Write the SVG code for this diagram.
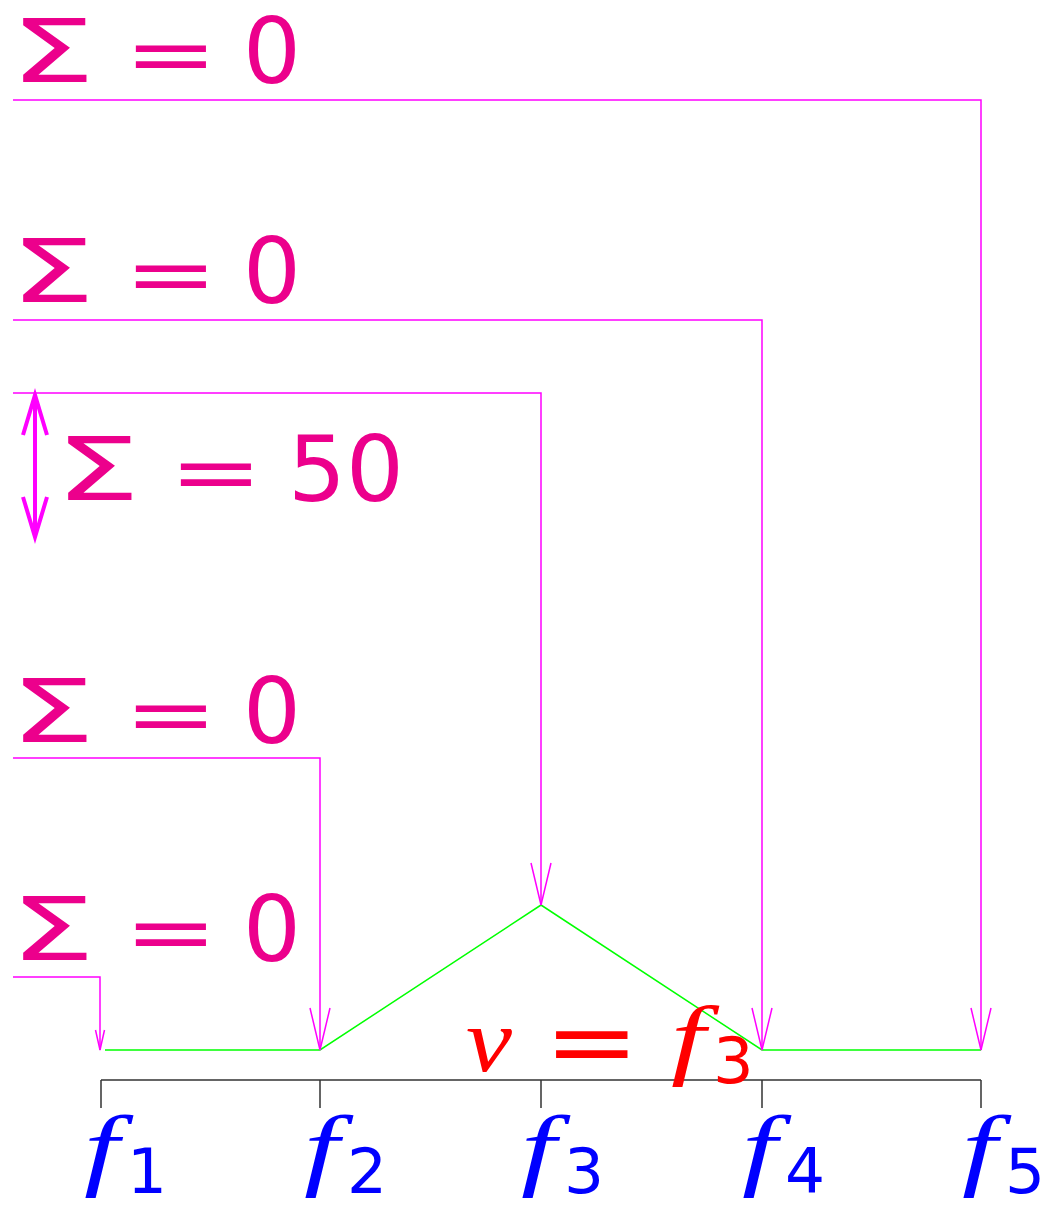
<svg xmlns="http://www.w3.org/2000/svg" width="1062" height="1215" viewBox="0 0 1062 1215">
<defs>
<style>
.conn{fill:none;stroke:#ff00ff;stroke-width:1.5}
.ls{font-family:"DejaVu Sans",sans-serif;font-size:88px;fill:#ec008c}
.le{font-family:"DejaVu Sans",sans-serif;font-size:80px;fill:#ec008c}
.lz{font-family:"DejaVu Sans",sans-serif;font-size:91px;fill:#ec008c}
.ax{fill:none;stroke:#333;stroke-width:1.5}
.f{font-family:"Liberation Serif",serif;font-style:italic;font-size:90px;fill:#0000ff}
.sub{font-family:"DejaVu Sans",sans-serif;font-size:63px;fill:#0000ff}
.r{fill:#ff0000}
</style>
<marker id="ah" markerUnits="userSpaceOnUse" markerWidth="60" markerHeight="40" viewBox="-50 -20 60 40" refX="0" refY="0" orient="auto">
<path d="M-42,-10 L0,0 L-42,10" fill="none" stroke="#ff00ff" stroke-width="1.5"/>
</marker>
<marker id="ah2" markerUnits="userSpaceOnUse" markerWidth="30" markerHeight="20" viewBox="-25 -10 30 20" refX="0" refY="0" orient="auto">
<path d="M-20,-4.5 L0,0 L-20,4.5" fill="none" stroke="#ff00ff" stroke-width="1.5"/>
</marker>
<marker id="ah3" markerUnits="userSpaceOnUse" markerWidth="60" markerHeight="40" viewBox="-50 -20 60 40" refX="0" refY="0" orient="auto-start-reverse">
<path d="M-40,-12 L0,0 L-40,12" fill="none" stroke="#ff00ff" stroke-width="4"/>
</marker>
</defs>
<g id="axis">
<path class="ax" d="M101,1080 H981 M101,1080 V1108 M320,1080 V1108 M541,1080 V1108 M762,1080 V1108 M981,1080 V1108"/>
</g>
<g id="curve">
<polyline points="105,1050 320,1050 541,905 762,1050 981,1050" fill="none" stroke="#00ff00" stroke-width="1.5"/>
</g>
<g id="connectors">
<path class="conn" d="M13,100 H981 V1050" marker-end="url(#ah)"/>
<path class="conn" d="M13,320 H762 V1050" marker-end="url(#ah)"/>
<path class="conn" d="M13,393 H541 V905" marker-end="url(#ah)"/>
<path class="conn" d="M13,758 H320 V1050" marker-end="url(#ah)"/>
<path class="conn" d="M13,977 H100 V1050" marker-end="url(#ah2)"/>
<path d="M35,395 V537" fill="none" stroke="#ff00ff" stroke-width="4" marker-start="url(#ah3)" marker-end="url(#ah3)"/>
</g>
<g id="label1">
<text class="ls" transform="translate(10,82) scale(1.53,1)">Σ</text>
<text class="le" transform="translate(124,82) scale(1.4,1)">=</text>
<text class="lz" transform="translate(243,83)">0</text>
</g>
<g id="label2" transform="translate(0,220)">
<text class="ls" transform="translate(10,82) scale(1.53,1)">Σ</text>
<text class="le" transform="translate(124,82) scale(1.4,1)">=</text>
<text class="lz" transform="translate(243,83)">0</text>
</g>
<g id="label3" transform="translate(45,418)">
<text class="ls" transform="translate(10,82) scale(1.53,1)">Σ</text>
<text class="le" transform="translate(124,82) scale(1.4,1)">=</text>
<text class="lz" transform="translate(243,83)">50</text>
</g>
<g id="label4" transform="translate(0,660)">
<text class="ls" transform="translate(10,82) scale(1.53,1)">Σ</text>
<text class="le" transform="translate(124,82) scale(1.4,1)">=</text>
<text class="lz" transform="translate(243,83)">0</text>
</g>
<g id="label5" transform="translate(0,878)">
<text class="ls" transform="translate(10,82) scale(1.53,1)">Σ</text>
<text class="le" transform="translate(124,82) scale(1.4,1)">=</text>
<text class="lz" transform="translate(243,83)">0</text>
</g>
<g id="nu">
<text class="r" font-family="Liberation Serif,serif" font-style="italic" font-size="90" transform="translate(466,1071) scale(1.15,1)">ν</text>
<text class="r" font-family="DejaVu Sans,sans-serif" font-size="95" transform="translate(544,1074) scale(1.2,1)">=</text>
<text class="r" font-family="Liberation Serif,serif" font-style="italic" font-size="88" transform="translate(671,1068) scale(1.4,1)">f</text>
<text class="r" font-family="DejaVu Sans,sans-serif" font-size="64" x="713" y="1083">3</text>
</g>
<g id="f1"><text class="f" transform="translate(84,1179) scale(1.4,1)">f</text><text class="sub" x="127" y="1193">1</text></g>
<g id="f2"><text class="f" transform="translate(304,1179) scale(1.4,1)">f</text><text class="sub" x="347" y="1193">2</text></g>
<g id="f3"><text class="f" transform="translate(521,1179) scale(1.4,1)">f</text><text class="sub" x="564" y="1193">3</text></g>
<g id="f4"><text class="f" transform="translate(742,1179) scale(1.4,1)">f</text><text class="sub" x="785" y="1193">4</text></g>
<g id="f5"><text class="f" transform="translate(962,1179) scale(1.4,1)">f</text><text class="sub" x="1005" y="1193">5</text></g>
</svg>
